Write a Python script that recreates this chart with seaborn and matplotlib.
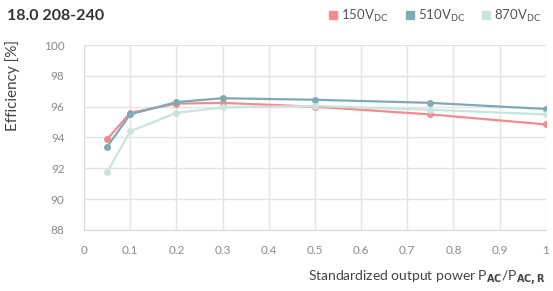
import pandas as pd
import matplotlib.pyplot as plt
import seaborn as sns

# values
power = [0.05, 0.1, 0.2, 0.3, 0.5, 0.75, 1.0]
eff_150 = [93.9, 95.6, 96.2, 96.25, 96.0, 95.5, 94.85]
eff_510 = [93.4, 95.5, 96.3, 96.55, 96.45, 96.25, 95.85]
eff_870 = [91.75, 94.4, 95.6, 95.95, 96.05, 95.8, 95.5]
series = ["150V", "510V", "870V"]
colors = ["#f28b8b", "#7fa9b3", "#c8e4dc"]
x_ticks = [0, 0.1, 0.2, 0.3, 0.4, 0.5, 0.6, 0.7, 0.8, 0.9, 1]
x_labels = ["0", "0.1", "0.2", "0.3", "0.4", "0.5", "0.6", "0.7", "0.8", "0.9", "1"]
y_ticks = [88, 90, 92, 94, 96, 98, 100]

df = pd.DataFrame({
    "power": power * 3,
    "eff": eff_150 + eff_510 + eff_870,
    "series": [s for s in series for _ in power],
})

sns.set_style("white")
plt.rcParams["font.family"] = ["Lato", "DejaVu Sans"]

fig = plt.figure(figsize=(5.53, 2.91), dpi=100)
ax = fig.add_axes([0.152, 0.21, 0.835, 0.635])

sns.lineplot(data=df, x="power", y="eff", hue="series", palette=colors,
             marker="o", markersize=5, markeredgewidth=0, linewidth=1.6,
             ax=ax, legend=False)

ax.set_xlim(0, 1)
ax.set_ylim(88, 100)
ax.set_xticks(x_ticks)
ax.set_xticklabels(x_labels)
ax.set_yticks(y_ticks)
ax.grid(True, color="#e3e3e3", linewidth=1)
ax.set_axisbelow(True)
for side in ["top", "right"]:
    ax.spines[side].set_visible(False)
for side in ["left", "bottom"]:
    ax.spines[side].set_color("#d9d9d9")
ax.tick_params(axis="both", length=0, labelsize=8.5, colors="#8a8a8a")
ax.tick_params(axis="x", pad=11)
ax.tick_params(axis="y", pad=14)
ax.set_xlabel("")
ax.set_ylabel("")

fig.text(0.022, 0.705, "Efficiency [%]", rotation=90, ha="center", va="center",
         fontsize=11, color="#444444")
fig.text(0.987, 0.045, r"Standardized output power P$_{\mathbf{AC}}$/P$_{\mathbf{AC,R}}$",
         ha="right", va="center", fontsize=10, color="#444444")
fig.text(0.012, 0.945, "18.0 208-240", ha="left", va="center",
         fontsize=11.5, fontweight="bold", color="#333333")

# legend with square patches
handles = [plt.Line2D([], [], marker="s", linestyle="", markersize=6,
                      color=c) for c in colors]
labels = [s + r"$_{\mathrm{DC}}$" for s in series]
fig.legend(handles, labels, loc="center right", bbox_to_anchor=(1.0, 0.945),
           ncol=3, frameon=False, fontsize=9.5, handletextpad=0.1,
           handlelength=1.0, columnspacing=1.1, labelcolor="#555555")

fig.savefig("out.png", dpi=100)
